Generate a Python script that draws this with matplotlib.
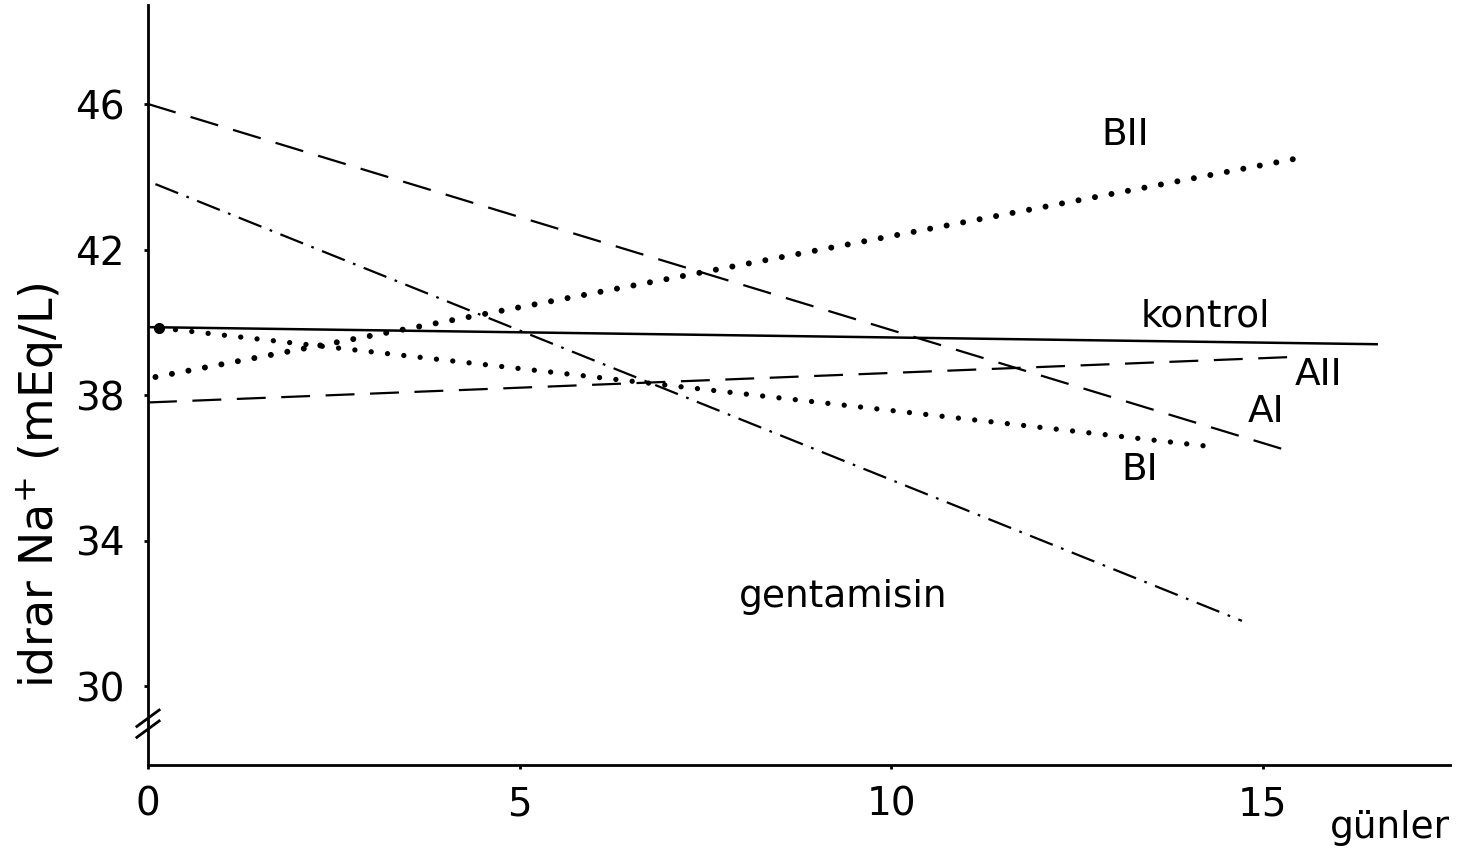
import matplotlib
matplotlib.use("Agg")
import matplotlib.pyplot as plt

# ---- data ----
days_kontrol = [0.0, 16.55]
na_kontrol = [39.87, 39.4]

days_AI = [0.0, 15.3]
na_AI = [46.0, 36.5]

days_AII = [0.0, 15.4]
na_AII = [37.8, 39.05]

days_BI = [0.15, 14.25]
na_BI = [39.85, 36.6]

days_BII = [0.1, 15.45]
na_BII = [38.5, 44.5]

days_gent = [0.1, 14.72]
na_gent = [43.8, 31.8]

y_ticks = [30, 34, 38, 42, 46]
x_ticks = [0, 5, 10, 15]

labels = ["kontrol", "AII", "AI", "BI", "BII", "gentamisin"]
label_x = [14.23, 15.75, 15.05, 13.35, 13.15, 9.35]
label_y = [40.15, 38.55, 37.55, 35.95, 45.15, 32.45]

# ---- figure ----
fig = plt.figure(figsize=(14.57, 8.59), dpi=100)
ax = fig.add_axes([148/1457, 1-765/859, (1450-148)/1457, (765-5)/859])
ax.set_xlim(0, 17.52)
ax.set_ylim(27.84, 48.72)

fam = ["DejaVu Sans"]

ax.plot(days_kontrol, na_kontrol, color="black", lw=1.8, solid_capstyle="butt")
ax.plot(days_AI, na_AI, color="black", lw=1.6, linestyle=(0, (13, 7)))
ax.plot(days_AII, na_AII, color="black", lw=1.6, linestyle=(0, (13, 7)))
ax.plot(days_gent, na_gent, color="black", lw=1.6,
        linestyle=(0, (11, 4, 1.2, 4)))
ax.plot(days_BII, na_BII, color="black", lw=4.3, linestyle=(0, (0.01, 2.8)),
        dash_capstyle="round")
ax.plot(days_BI, na_BI, color="black", lw=3.8, linestyle=(0, (0.01, 3.1)),
        dash_capstyle="round")
ax.plot([days_BI[0]], [na_BI[0]], "o", color="black", ms=7)

for t, x, y in zip(labels, label_x, label_y):
    ax.text(x, y, t, fontsize=27, family=fam, ha="center", va="center")

for s in ["top", "right"]:
    ax.spines[s].set_visible(False)
for s in ["left", "bottom"]:
    ax.spines[s].set_linewidth(2)
    ax.spines[s].set_color("black")

ax.set_yticks(y_ticks)
ax.set_yticklabels([str(v) for v in y_ticks], fontsize=28, family=fam)
ax.set_xticks(x_ticks)
ax.set_xticklabels([str(v) for v in x_ticks], fontsize=28, family=fam)
ax.tick_params(axis="y", length=3, width=2, pad=14)
ax.tick_params(axis="x", length=3, width=2, pad=12)

# axis break mark on the y axis
ax.plot([-0.15, 0.15], [28.9, 29.35], color="black", lw=2, clip_on=False)
ax.plot([-0.15, 0.15], [28.6, 29.05], color="black", lw=2, clip_on=False)

fig.text(40/1457, 1-485/859, "idrar Na$^{+}$ (mEq/L)", rotation=90,
         fontsize=33, family=fam, ha="center", va="center")
fig.text(1390/1457, 1-828/859, "günler", fontsize=27, family=fam,
         ha="center", va="center")

fig.savefig("out.png", dpi=100, facecolor="white")
